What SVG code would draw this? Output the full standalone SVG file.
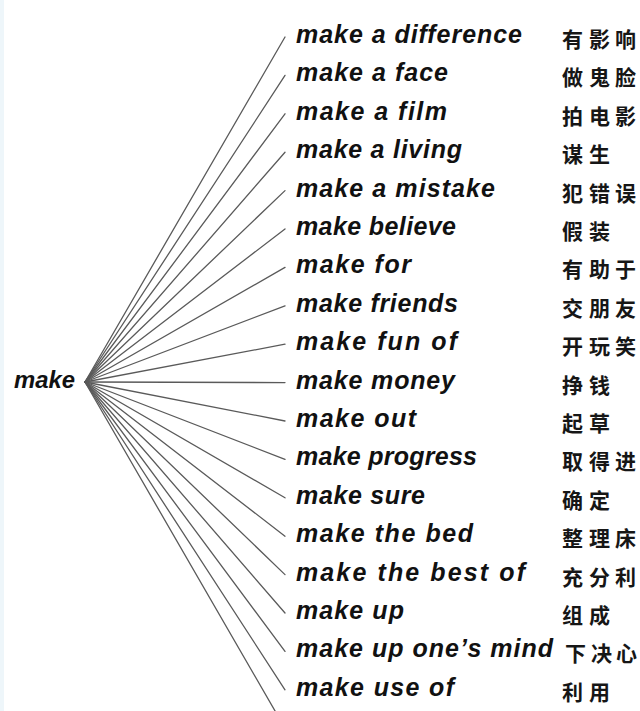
<svg xmlns="http://www.w3.org/2000/svg" width="640" height="711" viewBox="0 0 640 711">
<style>
.en{font-family:"Liberation Sans",Arial,sans-serif;font-weight:bold;font-style:italic;font-size:25px;fill:#111}
.zh{font-family:"Noto Sans CJK SC",sans-serif;font-weight:bold;font-size:21px;fill:#161616}
.root{font-family:"Liberation Sans",Arial,sans-serif;font-weight:bold;font-style:italic;font-size:23px;fill:#111}
#connectors line{stroke:#5a5a5a;stroke-width:1.3;stroke-linecap:round}
</style>
<rect x="0" y="0" width="640" height="711" fill="#ffffff"/>
<rect x="0" y="0" width="4" height="711" fill="#eef6fa"/>
<g id="connectors">
<line x1="85" y1="382" x2="285" y2="37"/>
<line x1="85" y1="382" x2="285" y2="75.4"/>
<line x1="85" y1="382" x2="285" y2="113.8"/>
<line x1="85" y1="382" x2="285" y2="152.2"/>
<line x1="85" y1="382" x2="285" y2="190.6"/>
<line x1="85" y1="382" x2="285" y2="229"/>
<line x1="85" y1="382" x2="285" y2="267.4"/>
<line x1="85" y1="382" x2="285" y2="305.8"/>
<line x1="85" y1="382" x2="285" y2="344.2"/>
<line x1="85" y1="382" x2="285" y2="382.6"/>
<line x1="85" y1="382" x2="285" y2="421"/>
<line x1="85" y1="382" x2="285" y2="459.4"/>
<line x1="85" y1="382" x2="285" y2="497.8"/>
<line x1="85" y1="382" x2="285" y2="536.2"/>
<line x1="85" y1="382" x2="285" y2="574.6"/>
<line x1="85" y1="382" x2="285" y2="613"/>
<line x1="85" y1="382" x2="285" y2="651.4"/>
<line x1="85" y1="382" x2="285" y2="689.8"/>
<line x1="85" y1="382" x2="285" y2="728.2"/>
</g>
<g id="root"><text class="root" x="14" y="388" textLength="61" lengthAdjust="spacingAndGlyphs">make</text></g>
<g id="n1"><text class="en" x="296" y="43" textLength="226">make a difference</text><text class="zh" x="562 589 615" y="47">有影响</text></g>
<g id="n2"><text class="en" x="296" y="81.4" textLength="152">make a face</text><text class="zh" x="562 589 615" y="85.4">做鬼脸</text></g>
<g id="n3"><text class="en" x="296" y="119.8" textLength="151">make a film</text><text class="zh" x="562 589 615" y="123.8">拍电影</text></g>
<g id="n4"><text class="en" x="296" y="158.2" textLength="166">make a living</text><text class="zh" x="562 589" y="162.2">谋生</text></g>
<g id="n5"><text class="en" x="296" y="196.6" textLength="199">make a mistake</text><text class="zh" x="562 589 615" y="200.6">犯错误</text></g>
<g id="n6"><text class="en" x="296" y="235" textLength="160">make believe</text><text class="zh" x="562 589" y="239">假装</text></g>
<g id="n7"><text class="en" x="296" y="273.4" textLength="115">make for</text><text class="zh" x="562 589 615" y="277.4">有助于</text></g>
<g id="n8"><text class="en" x="296" y="311.8" textLength="162">make friends</text><text class="zh" x="562 589 615" y="315.8">交朋友</text></g>
<g id="n9"><text class="en" x="296" y="350.2" textLength="161">make fun of</text><text class="zh" x="562 589 615" y="354.2">开玩笑</text></g>
<g id="n10"><text class="en" x="296" y="388.6" textLength="159">make money</text><text class="zh" x="562 589" y="392.6">挣钱</text></g>
<g id="n11"><text class="en" x="296" y="427" textLength="120">make out</text><text class="zh" x="562 589" y="431">起草</text></g>
<g id="n12"><text class="en" x="296" y="465.4" textLength="181">make progress</text><text class="zh" x="562 589 615" y="469.4">取得进</text></g>
<g id="n13"><text class="en" x="296" y="503.8" textLength="129">make sure</text><text class="zh" x="562 589" y="507.8">确定</text></g>
<g id="n14"><text class="en" x="296" y="542.2" textLength="177">make the bed</text><text class="zh" x="562 589 615" y="546.2">整理床</text></g>
<g id="n15"><text class="en" x="296" y="580.6" textLength="229">make the best of</text><text class="zh" x="562 589 615" y="584.6">充分利</text></g>
<g id="n16"><text class="en" x="296" y="619" textLength="108">make up</text><text class="zh" x="562 589" y="623">组成</text></g>
<g id="n17"><text class="en" x="296" y="657.4" textLength="257">make up one’s mind</text><text class="zh" x="565 591 616" y="661.4">下决心</text></g>
<g id="n18"><text class="en" x="296" y="695.8" textLength="158">make use of</text><text class="zh" x="562 589" y="699.8">利用</text></g>
</svg>
